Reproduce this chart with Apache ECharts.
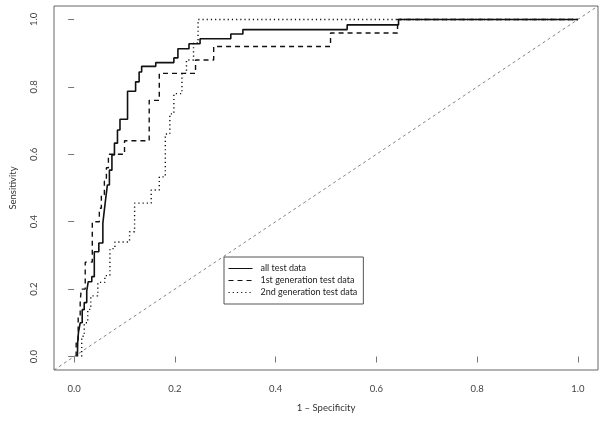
<!DOCTYPE html>
<html><head><meta charset="utf-8">
<script src="https://cdn.jsdelivr.net/npm/echarts@6/dist/echarts.min.js"></script>
<style>html,body{margin:0;padding:0;background:#fff}#c{width:605px;height:424px}</style>
</head><body><div id="c"></div>
<script>
var seriesNames = ['all test data', '1st generation test data', '2nd generation test data'];
var tickValues = [0, 0.2, 0.4, 0.6, 0.8, 1.0];
var xAxisTitle = '1 \u2013 Specificity';
var yAxisTitle = 'Sensitivity';

// ROC curve corner points: [1 - specificity, sensitivity]
var allTest = [
 [0.0065,0],[0.007,0.041],[0.0085,0.041],[0.0085,0.071],[0.012,0.071],[0.012,0.10],[0.016,0.10],[0.016,0.139],
 [0.020,0.139],[0.020,0.16],[0.025,0.16],[0.025,0.195],[0.028,0.195],[0.028,0.222],[0.035,0.222],[0.035,0.237],
 [0.040,0.237],[0.040,0.311],[0.049,0.311],[0.049,0.337],[0.057,0.337],[0.057,0.396],[0.060,0.396],[0.060,0.435],
 [0.063,0.435],[0.063,0.473],[0.066,0.473],[0.066,0.509],[0.070,0.509],[0.070,0.553],[0.075,0.553],[0.075,0.598],
 [0.080,0.598],[0.080,0.633],[0.086,0.633],[0.086,0.672],[0.091,0.672],[0.091,0.704],[0.106,0.704],[0.106,0.787],
 [0.122,0.787],[0.122,0.815],[0.129,0.815],[0.129,0.844],[0.134,0.844],[0.134,0.861],[0.162,0.861],[0.162,0.872],
 [0.198,0.872],[0.198,0.886],[0.206,0.886],[0.206,0.913],[0.228,0.913],[0.228,0.928],[0.250,0.928],[0.250,0.943],
 [0.311,0.943],[0.311,0.957],[0.335,0.957],[0.335,0.970],[0.542,0.970],[0.542,0.984],[0.644,0.984],[0.644,1.0],[1,1]
];
var firstGen = [
 [0.004,0],[0.004,0.04],[0.008,0.04],[0.008,0.12],[0.012,0.12],[0.012,0.16],[0.014,0.16],[0.014,0.20],
 [0.022,0.20],[0.022,0.28],[0.036,0.28],[0.036,0.40],[0.050,0.40],[0.050,0.44],[0.054,0.44],[0.054,0.48],
 [0.060,0.48],[0.060,0.52],[0.064,0.52],[0.064,0.56],[0.068,0.56],[0.068,0.60],[0.100,0.60],[0.100,0.64],
 [0.149,0.64],[0.149,0.76],[0.169,0.76],[0.169,0.84],[0.241,0.84],[0.241,0.88],[0.277,0.88],[0.277,0.92],
 [0.509,0.92],[0.509,0.96],[0.642,0.96],[0.642,1.0],[1,1]
];
var secondGen = [
 [0.015,0],[0.015,0.06],[0.020,0.06],[0.020,0.10],[0.027,0.10],[0.027,0.14],[0.033,0.14],[0.033,0.18],
 [0.047,0.18],[0.047,0.22],[0.061,0.22],[0.061,0.24],[0.071,0.24],[0.071,0.32],[0.081,0.32],[0.081,0.34],
 [0.110,0.34],[0.110,0.37],[0.120,0.37],[0.120,0.455],[0.153,0.455],[0.153,0.494],[0.169,0.494],[0.169,0.533],
 [0.181,0.533],[0.181,0.66],[0.190,0.66],[0.190,0.72],[0.198,0.72],[0.198,0.78],[0.214,0.78],[0.214,0.84],
 [0.223,0.84],[0.223,0.88],[0.237,0.88],[0.237,0.93],[0.246,0.93],[0.246,1.0],[1,1]
];
var diagonal = [[-0.04,-0.04],[1.04,1.04]];

var font = 'Lato';
var chart = echarts.init(document.getElementById('c'), null, {renderer:'canvas'});
function axisCommon(name, isY){
  return {
    type:'value', min:-0.04, max:1.04,
    name:name, nameLocation:'middle', nameGap: isY ? 36 : 33,
    nameTextStyle:{fontFamily:font, fontSize:9.5, color:'#333'},
    axisLine:{show:false},
    splitLine:{show:false},
    axisTick:{show:true, length:6, inside:false, customValues:tickValues, lineStyle:{color:'#777', width:1}},
    axisLabel:{customValues:tickValues, margin: isY ? 15 : 14, rotate: isY ? 90 : 0,
      fontFamily:font, fontSize:9.5, color:'#444',
      formatter:function(v){return v.toFixed(1);}}
  };
}
chart.setOption({
  animation:false,
  backgroundColor:'#fff',
  grid:{left:49, right:7, top:6, bottom:54, show:true, borderColor:'#666', borderWidth:1, backgroundColor:'transparent'},
  xAxis: axisCommon(xAxisTitle, false),
  yAxis: axisCommon(yAxisTitle, true),
  legend:{
    data: seriesNames, orient:'vertical', left:224, top:257,
    itemWidth:24, itemHeight:10, itemGap:3, padding:[7,6,7,4],
    borderColor:'#555', borderWidth:1, backgroundColor:'#fff',
    itemStyle:{opacity:0},
    lineStyle:{width:1},
    textStyle:{fontFamily:font, fontSize:9, color:'#222', padding:[0,0,0,3]}
  },
  series:[
    {name:'diag', type:'line', data:diagonal, symbol:'none', silent:true,
     lineStyle:{color:'#666', width:0.8, type:[3,3]}, z:1},
    {name:seriesNames[0], type:'line', data:allTest, symbol:'none',
     lineStyle:{color:'#111', width:1.6, type:'solid'}, itemStyle:{color:'#111'}},
    {name:seriesNames[1], type:'line', data:firstGen, symbol:'none',
     lineStyle:{color:'#111', width:1.4, type:[5,4]}, itemStyle:{color:'#111'}},
    {name:seriesNames[2], type:'line', data:secondGen, symbol:'none',
     lineStyle:{color:'#111', width:1.4, type:[1.2,3]}, itemStyle:{color:'#111'}}
  ]
});
</script></body></html>
